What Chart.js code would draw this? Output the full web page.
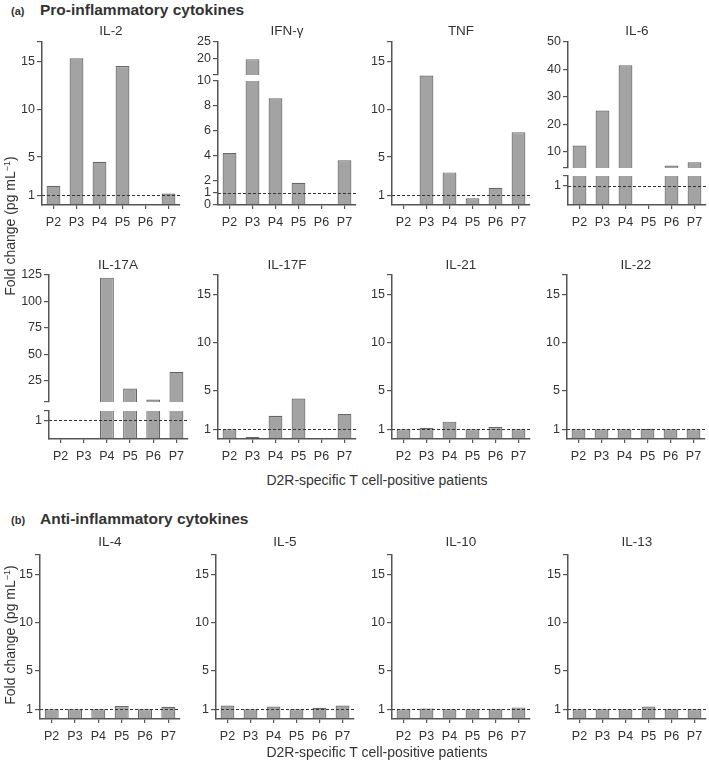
<!DOCTYPE html>
<html>
<head>
<meta charset="utf-8">
<script src="https://cdn.jsdelivr.net/npm/chart.js@4.4.0/dist/chart.umd.min.js"></script>
<style>
  html, body { margin: 0; padding: 0; background: #fff; }
  #page { position: relative; width: 709px; height: 765px; overflow: hidden;
          font-family: "Liberation Sans", Arial, sans-serif; color: #333; }
  .txt { position: absolute; white-space: nowrap; transform: translate(-50%, -50%); }
  .title { font-size: 13.5px; }
  .head { font-weight: bold; font-size: 15.5px; transform: translate(0, -50%); }
  .tag { font-weight: bold; font-size: 11px; transform: translate(0, -50%); }
  .xtitle { font-size: 14px; }
  .ytitle { font-size: 14px; transform: translate(-50%, -50%) rotate(-90deg); }
  .ytitle sup { font-size: 9px; }
  canvas { position: absolute; }
</style>
</head>
<body>
<div id="page"></div>
<script>
// === DATA ===
const patients = ['P2', 'P3', 'P4', 'P5', 'P6', 'P7'];

const il2   = [2.0, 15.3, 4.5, 14.5, 0, 1.2];
const ifng  = [4.2, 19.8, 8.6, 1.8, 0, 3.6];
const tnf   = [0, 13.5, 3.4, 0.7, 1.8, 7.6];
const il6   = [12.2, 25.0, 41.5, 0, 4.9, 6.1];
const il17a = [0, 0, 122.5, 17.8, 7.3, 33.5];
const il17f = [1.0, 0.2, 2.4, 4.2, 0, 2.6];
const il21  = [1.0, 1.15, 1.8, 1.0, 1.25, 1.0];
const il22  = [1.0, 1.0, 1.0, 1.05, 1.0, 1.0];
const il4   = [1.0, 1.0, 1.0, 1.35, 1.0, 1.27];
const il5   = [1.4, 1.0, 1.3, 1.0, 1.17, 1.4];
const il10  = [1.0, 1.1, 1.0, 1.0, 1.0, 1.2];
const il13  = [1.0, 1.0, 1.0, 1.3, 1.0, 1.0];

// y ticks and their labels
const ticksStd = [1, 5, 10, 15, 17];
const labelsStd = ['1', '5', '10', '15', ''];
const ticksIfnLow = [0, 1, 2, 4, 6, 8, 10];
const labelsIfnLow = ['0', '1', '2', '4', '6', '8', '10'];
const ticksIfnHigh = [15, 20, 25];
const labelsIfnHigh = ['', '20', '25'];
const ticksIl6High = [4, 10, 20, 30, 40, 50];
const labelsIl6High = ['', '10', '20', '30', '40', '50'];
const ticksIl17aHigh = [5, 25, 50, 75, 100, 125];
const labelsIl17aHigh = ['', '25', '50', '75', '100', '125'];
const ticksBreakLow = [1, 1.5];
const labelsBreakLow = ['1', ''];

const BASELINE = 1;

// === STYLE ===
const AXIS = '#555';
const TXT = '#333';
const BAR_FILL = '#a3a3a3';
const BAR_EDGE = '#676767';

const PAD_L = 4, AXIS_W = 40, PAD_T = 10, PAD_R = 6, AXIS_H = 30, PAD_B = 10;

Chart.defaults.font.family = '"Liberation Sans", Arial, sans-serif';
Chart.defaults.font.size = 12;
Chart.defaults.color = TXT;

const page = document.getElementById('page');

// dashed reference line at fold change = 1
const refLine = {
    id: 'refLine',
    afterDatasetsDraw(chart, args, opts) {
        if (opts.value == null) return;
        const { ctx, chartArea } = chart;
        const y = Math.round(chart.scales.y.getPixelForValue(opts.value)) + 0.5;
        ctx.save();
        ctx.strokeStyle = '#333';
        ctx.lineWidth = 1;
        ctx.setLineDash([3, 2]);
        ctx.beginPath();
        ctx.moveTo(chartArea.left, y);
        ctx.lineTo(chartArea.right, y);
        ctx.stroke();
        ctx.restore();
    }
};

function addText(html, x, y, cls) {
    const d = document.createElement('div');
    d.className = 'txt ' + cls;
    d.innerHTML = html;
    d.style.left = x + 'px';
    d.style.top = y + 'px';
    page.appendChild(d);
}

// one panel (or one segment of a broken-axis panel); box = chart area in page px
function drawPanel(cfg) {
    const w = cfg.right - cfg.left, h = cfg.bottom - cfg.top;
    const xh = cfg.showX ? AXIS_H : 0;
    const pb = cfg.showX ? 0 : PAD_B;
    const cw = w + AXIS_W + PAD_L + PAD_R;
    const ch = h + PAD_T + xh + pb;

    const canvas = document.createElement('canvas');
    canvas.width = cw;
    canvas.height = ch;
    canvas.style.left = (cfg.left - AXIS_W - PAD_L) + 'px';
    canvas.style.top = (cfg.top - PAD_T) + 'px';
    canvas.style.width = cw + 'px';
    canvas.style.height = ch + 'px';
    page.appendChild(canvas);

    new Chart(canvas, {
        type: 'bar',
        data: {
            labels: patients,
            datasets: [{
                data: cfg.values,
                backgroundColor: BAR_FILL,
                borderColor: BAR_EDGE,
                borderWidth: 1.2,
                barPercentage: 0.6,
                categoryPercentage: 1,
                clip: 0
            }]
        },
        options: {
            responsive: false,
            animation: false,
            devicePixelRatio: 1,
            layout: { padding: { left: PAD_L, top: PAD_T, right: PAD_R, bottom: pb } },
            plugins: {
                legend: { display: false },
                tooltip: { enabled: false },
                refLine: cfg.ref ? { value: BASELINE } : { value: null }
            },
            scales: {
                x: {
                    type: 'category',
                    offset: true,
                    display: !!cfg.showX,
                    grid: { display: true, drawOnChartArea: false, offset: false, tickLength: 4, color: AXIS, lineWidth: 1.2 },
                    border: { display: true, color: AXIS, width: 1.5, z: 1 },
                    ticks: { padding: 6, color: TXT, font: { size: 12.5 }, autoSkip: false, maxRotation: 0 },
                    afterFit(s) { if (cfg.showX) s.height = AXIS_H; }
                },
                y: {
                    type: 'linear',
                    min: cfg.min,
                    max: cfg.max,
                    bounds: 'data',
                    afterBuildTicks(s) { s.ticks = cfg.ticks.map(v => ({ value: v })); },
                    ticks: { autoSkip: false, padding: 2, color: TXT, font: { size: 12.5 },
                             callback: (v, i) => cfg.labels[i] },
                    grid: { display: true, drawOnChartArea: false, tickLength: 5, color: AXIS, lineWidth: 1.2 },
                    border: { display: true, color: AXIS, width: 1.5, z: 1 },
                    afterFit(s) { s.width = AXIS_W; }
                }
            }
        },
        plugins: [refLine]
    });
}

function stdPanel(values, left, right, top, bottom) {
    drawPanel({ values, left, right, top, bottom, min: 0, max: 17,
                ticks: ticksStd, labels: labelsStd, showX: true, ref: true });
}

// === (a) row 1 ===
stdPanel(il2, 42, 180, 42, 205);
drawPanel({ values: ifng, left: 218, right: 356, top: 42, bottom: 75, min: 15, max: 25,
            ticks: ticksIfnHigh, labels: labelsIfnHigh, showX: false, ref: false });
drawPanel({ values: ifng, left: 218, right: 356, top: 81, bottom: 205, min: 0, max: 10,
            ticks: ticksIfnLow, labels: labelsIfnLow, showX: true, ref: true });
stdPanel(tnf, 392, 530, 42, 205);
drawPanel({ values: il6, left: 568, right: 706, top: 42, bottom: 168, min: 4, max: 50,
            ticks: ticksIl6High, labels: labelsIl6High, showX: false, ref: false });
drawPanel({ values: il6, left: 568, right: 706, top: 176, bottom: 205, min: 0, max: 1.5,
            ticks: ticksBreakLow, labels: labelsBreakLow, showX: true, ref: true });

// === (a) row 2 ===
drawPanel({ values: il17a, left: 49, right: 188, top: 275, bottom: 402, min: 5, max: 125,
            ticks: ticksIl17aHigh, labels: labelsIl17aHigh, showX: false, ref: false });
drawPanel({ values: il17a, left: 49, right: 188, top: 411, bottom: 439, min: 0, max: 1.5,
            ticks: ticksBreakLow, labels: labelsBreakLow, showX: true, ref: true });
stdPanel(il17f, 218, 356, 275, 439);
stdPanel(il21, 392, 530, 275, 439);
stdPanel(il22, 567, 705, 275, 439);

// === (b) ===
stdPanel(il4, 40, 180, 555, 719);
stdPanel(il5, 216, 354, 555, 719);
stdPanel(il10, 392, 530, 555, 719);
stdPanel(il13, 568, 706, 555, 719);

// === TEXT ===
addText('(a)', 11, 11, 'tag');
addText('Pro-inflammatory cytokines', 40, 10, 'head');
addText('(b)', 11, 520, 'tag');
addText('Anti-inflammatory cytokines', 40, 519, 'head');

addText('IL-2', 111, 30, 'title');
addText('IFN-γ', 287, 30, 'title');
addText('TNF', 461, 30, 'title');
addText('IL-6', 637, 30, 'title');
addText('IL-17A', 118, 264, 'title');
addText('IL-17F', 287, 264, 'title');
addText('IL-21', 461, 264, 'title');
addText('IL-22', 636, 264, 'title');
addText('IL-4', 110, 541, 'title');
addText('IL-5', 285, 541, 'title');
addText('IL-10', 461, 541, 'title');
addText('IL-13', 637, 541, 'title');

addText('D2R-specific T cell-positive patients', 377, 480, 'xtitle');
addText('D2R-specific T cell-positive patients', 377, 752, 'xtitle');
addText('Fold change (pg mL<sup>\u22121</sup>)', 10, 226, 'ytitle');
addText('Fold change (pg mL<sup>\u22121</sup>)', 10, 635, 'ytitle');
</script>
</body>
</html>
